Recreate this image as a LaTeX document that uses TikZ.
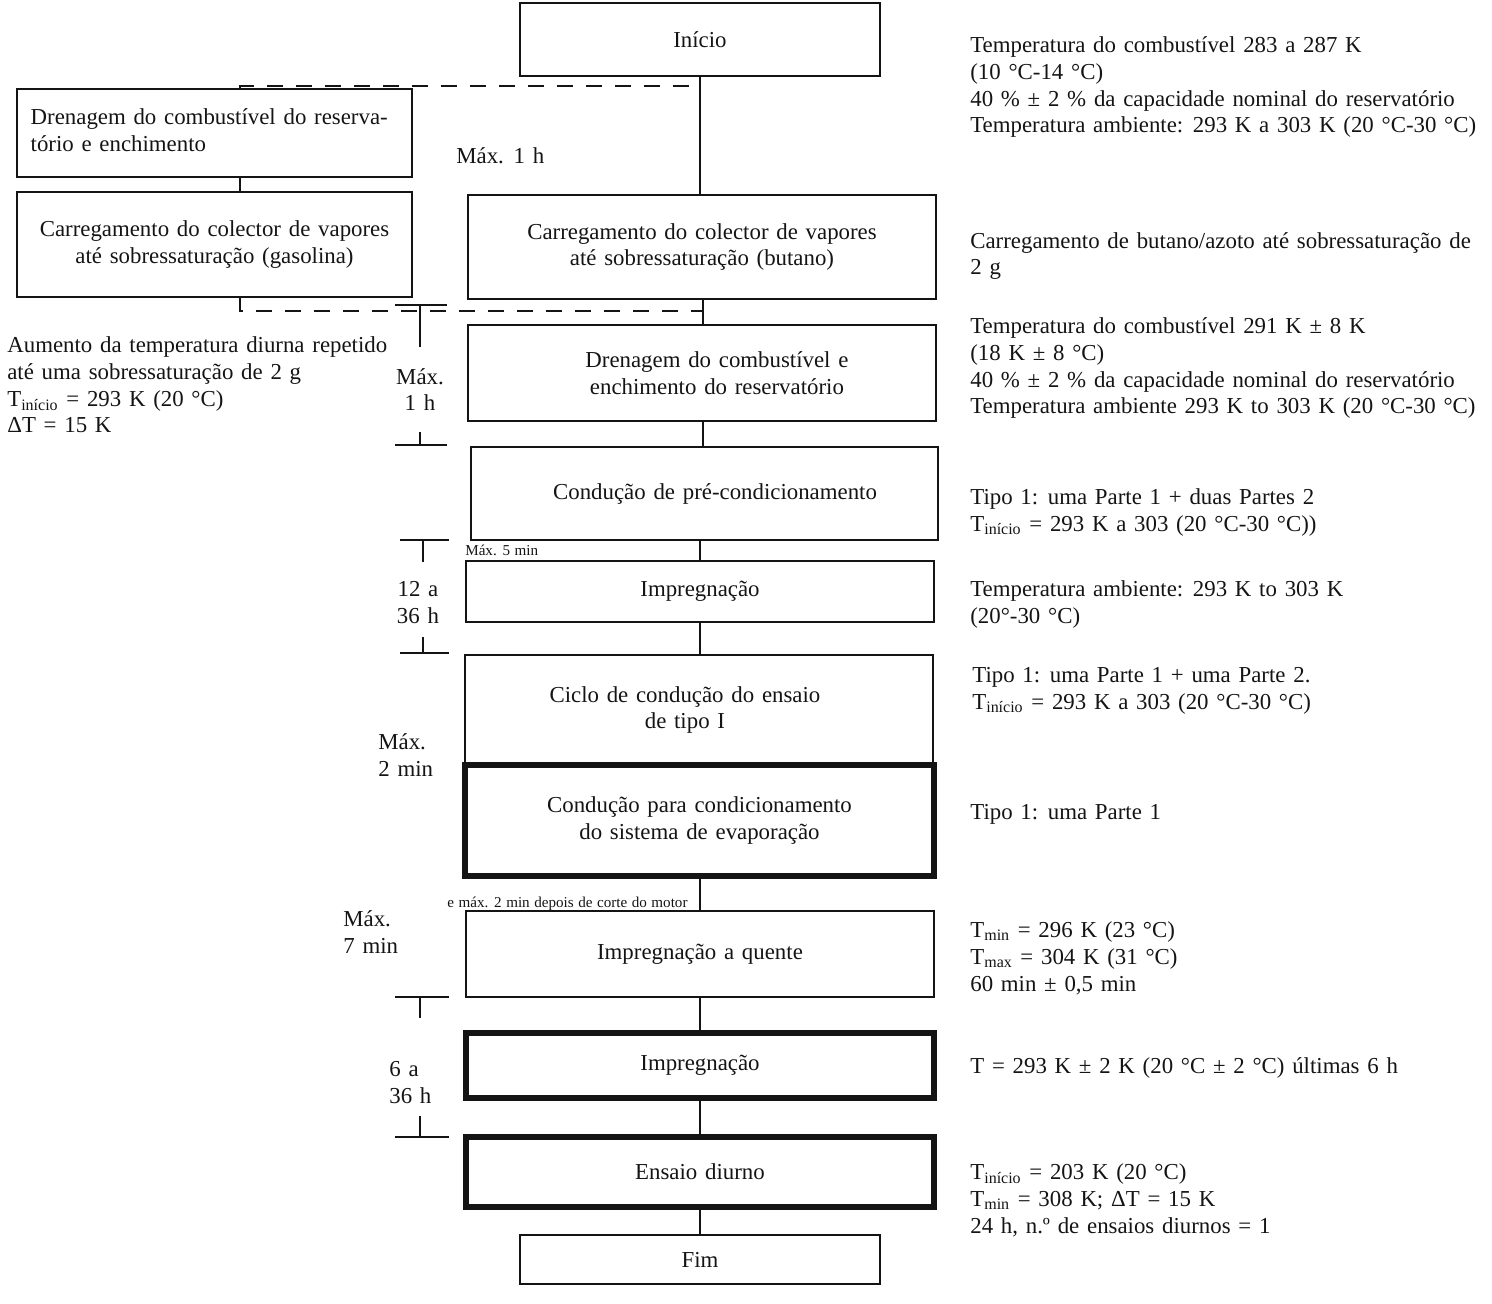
\documentclass[tikz,border=0pt]{standalone}
\usepackage{fontspec}
\setmainfont{Liberation Serif}
\definecolor{evapInk}{HTML}{141414}
\newcommand\evapfont{\fontsize{13}{15.2}\selectfont\spaceskip 0.34em plus 0.05em\relax}
\newcommand\evaptiny{\fontsize{8.6}{10}\selectfont\spaceskip 0.3em plus 0.05em\relax}

\begin{document}
\begin{tikzpicture}[x=0.02cm,y=-0.02cm,
    every node/.style={font=\evapfont,text=evapInk},
    stagebox/.style={draw=evapInk,line width=1.6pt,inner sep=0pt,align=center},
    heavybox/.style={stagebox,line width=3pt},
    note/.style={anchor=base west,align=left,inner sep=0pt},
    tinynote/.style={note,font=\evaptiny},
    link/.style={draw=evapInk,line width=1.5pt},
    thinlink/.style={draw=evapInk,line width=0.9pt},
    dashlink/.style={draw=evapInk,line width=1.6pt,dash pattern=on 0.32cm off 0.26cm}]
  \useasboundingbox (0,0) rectangle (1492,1304);
  % box from its corners: name, style, x1, y1, x2, y2, text
  \def\stage#1#2#3#4#5#6#7{%
    \node[#2,minimum width={(#5-#3)*0.02cm},minimum height={(#6-#4)*0.02cm}]
      (#1) at ({(#3+#5)/2},{(#4+#6)/2}) {#7};
  }
  \stage{inicio}{stagebox}{520}{3}{880}{76}{Início}
  \stage{drenL}{stagebox}{17}{89}{412}{177}{\begin{tabular}{@{}l@{}}Drenagem do combustível do reserva-\hspace*{6pt}\\tório e enchimento\end{tabular}}
  \stage{carL}{stagebox}{17}{192}{412}{297}{Carregamento do colector de vapores\\até sobressaturação (gasolina)}
  \stage{butano}{stagebox}{468}{195}{936}{299}{Carregamento do colector de vapores\\até sobressaturação (butano)}
  \stage{drenR}{stagebox}{468}{325}{936}{421}{\hspace*{17pt}Drenagem do combustível e\\\hspace*{17pt}enchimento do reservatório}
  \stage{precond}{stagebox}{471}{447}{938}{540}{\hspace*{12pt}Condução de pré-condicionamento}
  \stage{imp}{stagebox}{466}{561}{934}{622}{Impregnação}
  \stage{ciclo}{stagebox}{465}{655}{933}{765}{Ciclo de condução do ensaio\hspace*{16pt}\\de tipo I\hspace*{16pt}}
  \stage{evap}{heavybox}{465}{765}{934}{876}{Condução para condicionamento\\do sistema de evaporação}
  \stage{quente}{stagebox}{466}{911}{934}{997}{Impregnação a quente}
  \stage{impB}{heavybox}{466}{1033}{934}{1098}{Impregnação}
  \stage{diurno}{heavybox}{466}{1137}{934}{1207}{Ensaio diurno}
  \stage{fim}{stagebox}{520}{1235}{880}{1284}{Fim}

  % columns and joints
  \coordinate (colL) at (240,0);
  \coordinate (colM) at (700,0);
  \coordinate (colR) at (703,0);
  \coordinate (jtop) at (700,86);
  \coordinate (jbot) at (703,311);

  \draw[link] (inicio.south -| colM) -- (butano.north -| colM);
  \draw[link] (drenL.south -| colL) -- (carL.north -| colL);
  \draw[thinlink] (butano.south -| colR) -- (drenR.north -| colR);
  \draw[thinlink] (drenR.south -| colR) -- (precond.north -| colR);
  \draw[link] (precond.south -| colM) -- (imp.north -| colM);
  \draw[link] (imp.south -| colM) -- (ciclo.north -| colM);
  \draw[link] (evap.south -| colM) -- (quente.north -| colM);
  \draw[link] (quente.south -| colM) -- (impB.north -| colM);
  \draw[link] (impB.south -| colM) -- (diurno.north -| colM);
  \draw[link] (diurno.south -| colM) -- (fim.north -| colM);
  \draw[dashlink] (drenL.north -| colL) |- (jtop);
  \draw[dashlink] (carL.south -| colL) |- (jbot);

  % time brackets
  \foreach \xa/\xb/\xs/\ya/\yb/\yc/\yd in {395/447/420/305/347/432/445,
      400/449/423/540/562/637/653, 395/449/420/997/1018/1116/1137}{
    \draw[link] (\xa,\ya) -- (\xb,\ya) (\xs,\ya) -- (\xs,\yb)
      (\xs,\yc) -- (\xs,\yd) (\xa,\yd) -- (\xb,\yd);
  }
  % base of a note = baseline of its last line
  \node[note] (tmax) at (456,164) {Máx. 1 h};
  \node[note,anchor=base,align=center] (tdren) at (420,411) {Máx.\\1 h};
  \node[note,anchor=base,align=center] (timp) at (418,623) {12 a\\36 h};
  \node[note] (tciclo) at (378,776) {Máx.\\2 min};
  \node[note] (tquente) at (343,953) {Máx.\\7 min};
  \node[note] (timpB) at (389,1103) {6 a\\36 h};
  \node[tinynote] (tfive) at (465,555) {Máx. 5 min};
  \node[tinynote] (tmotor) at (447,907) {e máx. 2 min depois de corte do motor};

  % conditions
  \node[note] (aumento) at (7,433) {Aumento da temperatura diurna repetido\\até uma sobressaturação de 2 g\\T\textsubscript{início} = 293 K (20 °C)\\ΔT = 15 K};
  \node[note] (c1) at (970,133) {Temperatura do combustível 283 a 287 K\\(10 °C-14 °C)\\40 \% ± 2 \% da capacidade nominal do reservatório\\Temperatura ambiente: 293 K a 303 K (20 °C-30 °C)};
  \node[note] (c2) at (970,275) {Carregamento de butano/azoto até sobressaturação de\\2 g};
  \node[note] (c3) at (970,414) {Temperatura do combustível 291 K ± 8 K\\(18 K ± 8 °C)\\40 \% ± 2 \% da capacidade nominal do reservatório\\Temperatura ambiente 293 K to 303 K (20 °C-30 °C)};
  \node[note] (c4) at (970,531) {Tipo 1: uma Parte 1 + duas Partes 2\\T\textsubscript{início} = 293 K a 303 (20 °C-30 °C))};
  \node[note] (c5) at (970,623) {Temperatura ambiente: 293 K to 303 K\\(20°-30 °C)};
  \node[note] (c6) at (972,709) {Tipo 1: uma Parte 1 + uma Parte 2.\\T\textsubscript{início} = 293 K a 303 (20 °C-30 °C)};
  \node[note] (c7) at (970,819) {Tipo 1: uma Parte 1};
  \node[note] (c8) at (970,991) {T\textsubscript{min} = 296 K (23 °C)\\T\textsubscript{max} = 304 K (31 °C)\\60 min ± 0,5 min};
  \node[note] (c9) at (970,1073) {T = 293 K ± 2 K (20 °C ± 2 °C) últimas 6 h};
  \node[note] (c10) at (970,1233) {T\textsubscript{início} = 203 K (20 °C)\\T\textsubscript{min} = 308 K; ΔT = 15 K\\24 h, n.º de ensaios diurnos = 1};
\end{tikzpicture}
\end{document}
